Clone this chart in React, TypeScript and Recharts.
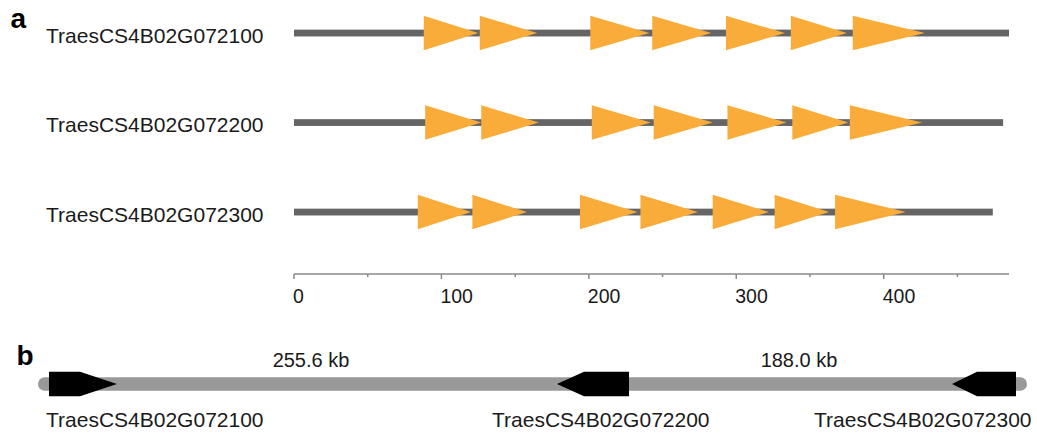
import React from "react";
import { ComposedChart, Bar, XAxis, YAxis, ReferenceDot } from "recharts";

// panel a: motif layout along each protein
const geneNames = ["TraesCS4B02G072100", "TraesCS4B02G072200", "TraesCS4B02G072300"];
const proteinLengths = [485, 481, 474];
const motifStarts = [
  [88, 126, 201, 243, 293, 337, 379],
  [89, 127, 202, 244, 294, 338, 377],
  [84, 121, 194, 235, 284, 326, 367],
];
const motifEnds = [
  [125, 165, 241, 283, 333, 375, 428],
  [127, 166, 242, 284, 334, 376, 426],
  [120, 158, 233, 274, 322, 363, 415],
];
const axisTicks = [0, 50, 100, 150, 200, 250, 300, 350, 400, 450];

// panel b: physical arrangement on the chromosome (schematic track units)
const locusRange = [38, 1027];
const geneStarts = [49, 557, 952];
const geneEnds = [117, 629, 1016];
const geneStrands = ["+", "-", "-"];
const spacerLabels = ["255.6 kb", "188.0 kb"];

const FONT = "'Liberation Sans', Arial, Helvetica, sans-serif";
const TEXT = "#1a1a1a";
const ORANGE = "#F9AC3A";

// vertical layout: numeric y runs top-down, so row 0 is the top track
const rows = geneNames.map((name, i) => {
  const r: any = { row: i, name, protein: [0, proteinLengths[i]] };
  motifStarts[i].forEach((s, k) => {
    r["m" + k] = [s, motifEnds[i][k]];
  });
  return r;
});

const locusRow: any = { track: "4B", locus: locusRange };
geneStarts.forEach((s, i) => {
  locusRow["g" + i] = [s, geneEnds[i]];
});

const ProteinLine = (p: any) => {
  const cy = p.y + p.height / 2;
  return <rect x={p.x} y={cy - 3.4} width={p.width} height={6.8} fill="#656565" />;
};

const Motif = (p: any) => {
  const cy = p.y + p.height / 2;
  const h = 17.3;
  return (
    <polygon
      points={`${p.x},${cy - h} ${p.x + p.width},${cy} ${p.x},${cy + h}`}
      fill={ORANGE}
    />
  );
};

const RowTick = (p: any) => (
  <text x={46} y={p.y + 9.4} fill={TEXT} fontSize={21} fontFamily={FONT}>
    {geneNames[p.payload.value]}
  </text>
);

const LengthTick = (p: any) => {
  const major = p.payload.value % 100 === 0;
  return (
    <g>
      <line x1={p.x} x2={p.x} y1={p.y} y2={p.y + (major ? 5 : 3)} stroke="#8a8a8a" strokeWidth={1.5} />
      {major && (
        <text x={p.x - 1} y={p.y + 29.3} fill={TEXT} fontSize={19.5} fontFamily={FONT}>
          {p.payload.value}
        </text>
      )}
    </g>
  );
};

const Backbone = (p: any) => {
  const cy = p.y + p.height / 2;
  return <rect x={p.x} y={cy - 6.7} width={p.width} height={13.4} rx={6.7} fill="#999999" />;
};

const HEADS = [37, 27, 25];

const GeneArrow = (p: any) => {
  const cy = p.y + p.height / 2;
  const h = 12.3;
  const { x, width, strand, head } = p;
  const pts =
    strand === "+"
      ? [[x, cy - h], [x + width - head, cy - h], [x + width, cy], [x + width - head, cy + h], [x, cy + h]]
      : [[x + width, cy - h], [x + head, cy - h], [x, cy], [x + head, cy + h], [x + width, cy + h]];
  return <polygon points={pts.map((q) => q.join(",")).join(" ")} fill="#000" />;
};

const NAME_X = [46, 492, 814];
const SPACER_X = [311, 799];

const GeneName = ({ viewBox, value }: any) => (
  <text x={viewBox.x} y={viewBox.y + 43} fill={TEXT} fontSize={21} fontFamily={FONT}>
    {value}
  </text>
);

export default function App() {
  return (
    <div style={{ position: "relative", width: 1037, height: 438, background: "#fff", overflow: "hidden" }}>
      <style>{"body{margin:0}"}</style>
      <div style={{ position: "absolute", left: 0, top: 0 }}>
        <ComposedChart
          width={1037}
          height={314}
          data={rows}
          layout="vertical"
          barGap={-35}
          margin={{ top: 0, right: 28, bottom: 0, left: 0 }}
        >
          <XAxis
            type="number"
            domain={[0, 484.5]}
            ticks={axisTicks}
            interval={0}
            height={40}
            tickSize={0}
            tickMargin={0}
            tickLine={false}
            axisLine={{ stroke: "#8a8a8a", strokeWidth: 1.5 }}
            tick={<LengthTick />}
          />
          <YAxis
            type="number"
            dataKey="row"
            domain={[-0.372, 2.689]}
            ticks={[0, 1, 2]}
            interval={0}
            width={294}
            tickSize={0}
            tickMargin={0}
            axisLine={false}
            tickLine={false}
            tick={<RowTick />}
          />
          <Bar dataKey="protein" barSize={35} shape={<ProteinLine />} isAnimationActive={false} />
          {motifStarts[0].map((_, k) => (
            <Bar key={k} dataKey={"m" + k} barSize={35} shape={<Motif />} isAnimationActive={false} />
          ))}
        </ComposedChart>
      </div>

      <div style={{ position: "absolute", left: 0, top: 335 }}>
        <ComposedChart
          width={1037}
          height={98}
          data={[locusRow]}
          layout="vertical"
          barGap={-26}
          margin={{ top: 0, right: 0, bottom: 0, left: 0 }}
          style={{ overflow: "visible" }}
        >
          <XAxis type="number" domain={[0, 1037]} hide />
          <YAxis type="category" dataKey="track" hide />
          <Bar dataKey="locus" barSize={26} shape={<Backbone />} isAnimationActive={false} />
          {geneStarts.map((_, i) => (
            <Bar
              key={i}
              dataKey={"g" + i}
              barSize={26}
              isAnimationActive={false}
              shape={(p: any) => <GeneArrow {...p} strand={geneStrands[i]} head={HEADS[i]} />}
            />
          ))}
          {spacerLabels.map((t, i) => (
            <ReferenceDot
              key={"s" + i}
              x={SPACER_X[i]}
              y="4B"
              r={0}
              ifOverflow="visible"
              label={{ value: t, position: "top", offset: 17.3, fill: TEXT, fontSize: 20, fontFamily: FONT }}
            />
          ))}
          {geneNames.map((n, i) => (
            <ReferenceDot
              key={"n" + i}
              x={NAME_X[i]}
              y="4B"
              r={0}
              ifOverflow="visible"
              label={<GeneName value={n} />}
            />
          ))}
        </ComposedChart>
      </div>

      <svg width={1037} height={438} style={{ position: "absolute", left: 0, top: 0, pointerEvents: "none" }}>
        <text x={10.5} y={27.7} fontSize={28} fontWeight="bold" fontFamily={FONT} fill="#000">a</text>
        <text x={16.5} y={364.5} fontSize={28} fontWeight="bold" fontFamily={FONT} fill="#000">b</text>
      </svg>
    </div>
  );
}
